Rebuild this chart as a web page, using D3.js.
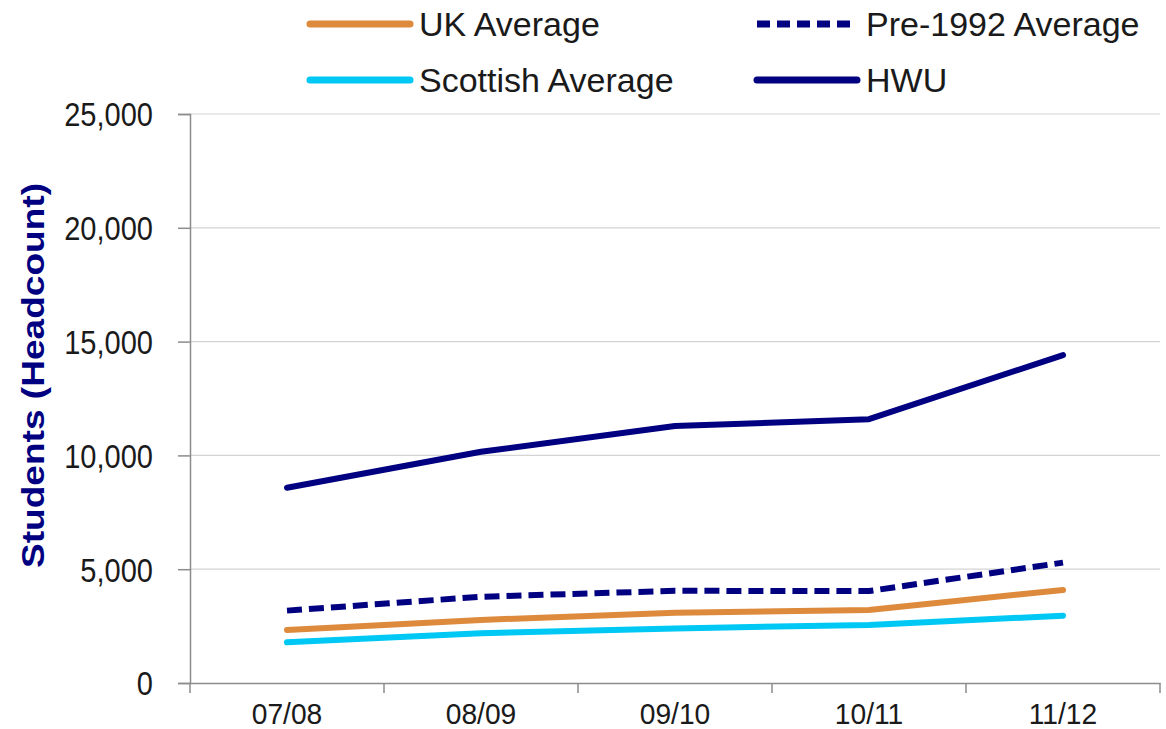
<!DOCTYPE html>
<html><head><meta charset="utf-8">
<script src="https://cdn.jsdelivr.net/npm/d3@7"></script>
<style>body{margin:0;background:#fff}svg{display:block}text{font-family:"Liberation Sans",Arial,sans-serif}</style>
</head><body><svg id="c" width="1166" height="729"></svg>
<script>
const categories = ["07/08","08/09","09/10","10/11","11/12"];
const ukAverage = [2330, 2770, 3090, 3210, 4090];
const pre1992Average = [3180, 3790, 4050, 4040, 5290];
const scottishAverage = [1790, 2190, 2400, 2550, 2960];
const hwu = [8580, 10160, 11290, 11590, 14410];
const yTicks = [0, 5000, 10000, 15000, 20000, 25000];
const yTitle = "Students (Headcount)";

const series = [
  {name:"UK Average", values: ukAverage, color:"#DE8A3C", dash:null},
  {name:"Pre-1992 Average", values: pre1992Average, color:"#000080", dash:"15,7"},
  {name:"Scottish Average", values: scottishAverage, color:"#00C8F5", dash:null},
  {name:"HWU", values: hwu, color:"#000080", dash:null}
];

const svg = d3.select("#c");
const L = 190, R = 1160, T = 114, B = 683;
const x = d3.scaleBand().domain(categories).range([L, R]);
const y = d3.scaleLinear().domain([0, 25000]).range([B, T]);

function squeeze(sel, f) {
  sel.each(function () {
    const w = this.getComputedTextLength();
    d3.select(this).attr("textLength", w * f).attr("lengthAdjust", "spacingAndGlyphs");
  });
}

// gridlines
svg.append("g").selectAll("line").data(yTicks.filter(d => d > 0)).join("line")
  .attr("x1", L).attr("x2", R).attr("y1", d => y(d)).attr("y2", d => y(d))
  .attr("stroke", "#d4d4d4").attr("stroke-width", 1.2);

// y axis
const yAxis = svg.append("g").attr("transform", `translate(${L},0)`)
  .call(d3.axisLeft(y).tickValues(yTicks).tickSize(12).tickPadding(25).tickFormat(d3.format(",")));
yAxis.select(".domain").attr("stroke", "#8c8c8c").attr("stroke-width", 1.5);
yAxis.selectAll(".tick line").attr("stroke", "#8c8c8c").attr("stroke-width", 1.5);
yAxis.selectAll("text").attr("font-size", 33).attr("fill", "#1a1a1a").attr("dy", "0.36em");
squeeze(yAxis.selectAll("text"), 0.88);

// x axis
const xAxis = svg.append("g").attr("transform", `translate(0,${B})`)
  .call(d3.axisBottom(x).tickSize(0));
xAxis.select(".domain").attr("stroke", "#8c8c8c").attr("stroke-width", 1.5);
xAxis.selectAll("text").attr("font-size", 30).attr("fill", "#1a1a1a").attr("y", 41).attr("dy", 0);
squeeze(xAxis.selectAll("text"), 0.94);
const bounds = categories.map(c => x(c)).concat([R]);
svg.append("g").selectAll("line").data(bounds).join("line")
  .attr("x1", d => d).attr("x2", d => d).attr("y1", B).attr("y2", B + 10)
  .attr("stroke", "#8c8c8c").attr("stroke-width", 1.5);

// y title
svg.append("text").attr("transform", `translate(44,${(183+568)/2}) rotate(-90)`)
  .attr("text-anchor", "middle").attr("font-size", 32).attr("font-weight", "bold")
  .attr("fill", "#000080").attr("textLength", 385).attr("lengthAdjust", "spacingAndGlyphs")
  .text(yTitle);

// lines
const line = d3.line().x((d, i) => x(categories[i]) + x.bandwidth() / 2).y(d => y(d));
const drawOrder = [series[2], series[0], series[1], series[3]];
svg.append("g").selectAll("path").data(drawOrder).join("path")
  .attr("d", s => line(s.values)).attr("fill", "none")
  .attr("stroke", s => s.color).attr("stroke-width", 6)
  .attr("stroke-linecap", s => s.dash ? "butt" : "round").attr("stroke-linejoin", "round")
  .attr("stroke-dasharray", s => s.dash);

// legend
const legPos = [[310, 24], [757, 24], [310, 80], [757, 80]];
const leg = svg.append("g").selectAll("g").data(series).join("g")
  .attr("transform", (s, i) => `translate(${legPos[i][0]},${legPos[i][1]})`);
leg.append("line").attr("x1", 0).attr("x2", s => s.dash ? 98 : 100).attr("y1", 0).attr("y2", 0)
  .attr("stroke", s => s.color).attr("stroke-width", 7)
  .attr("stroke-linecap", s => s.dash ? "butt" : "round")
  .attr("stroke-dasharray", s => s.dash ? "13,7" : null);
leg.append("text").attr("x", 109).attr("y", 0).attr("dy", "0.36em")
  .attr("font-size", 34).attr("fill", "#1a1a1a").text(s => s.name);
</script></body></html>
